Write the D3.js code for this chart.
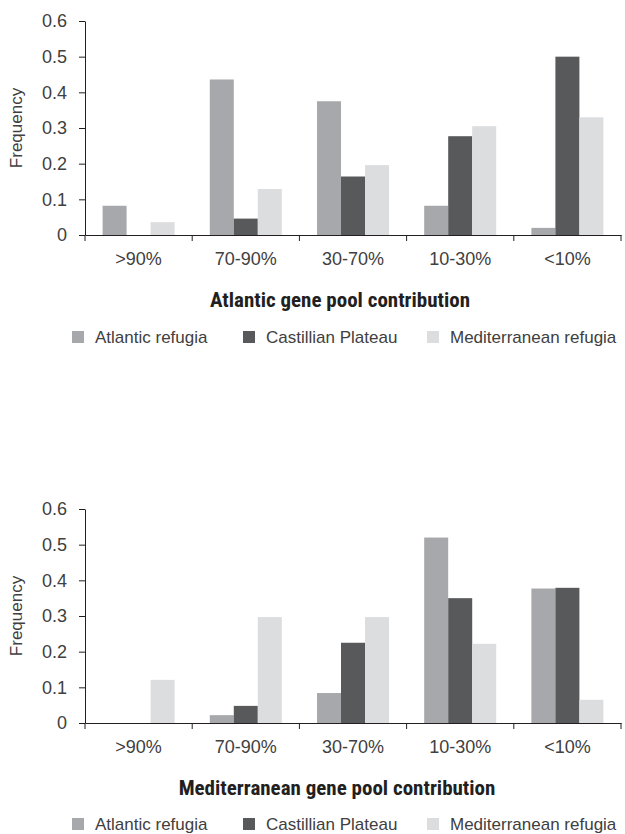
<!DOCTYPE html>
<html>
<head>
<meta charset="utf-8">
<script src="https://cdn.jsdelivr.net/npm/d3@7"></script>
<style>
  html, body { margin: 0; padding: 0; background: #fff; }
  svg { display: block; }
  .tick text { font-family: "Liberation Sans", Arial, sans-serif; }
</style>
</head>
<body>
<svg id="chart" width="625" height="834"></svg>
<script>
// ---- Data ----
const categories = [">90%", "70-90%", "30-70%", "10-30%", "<10%"];
const seriesNames = ["Atlantic refugia", "Castillian Plateau", "Mediterranean refugia"];
const seriesColors = ["#a7a8ab", "#58595b", "#dcdddf"];
const yTicks = [0, 0.1, 0.2, 0.3, 0.4, 0.5, 0.6];

// Panel 1: Atlantic gene pool contribution
const atlanticPanelAtlantic = [0.082, 0.436, 0.375, 0.082, 0.020];
const atlanticPanelCastillian = [0, 0.046, 0.164, 0.277, 0.500];
const atlanticPanelMediterranean = [0.036, 0.129, 0.196, 0.305, 0.330];

// Panel 2: Mediterranean gene pool contribution
const medPanelAtlantic = [0, 0.022, 0.084, 0.520, 0.377];
const medPanelCastillian = [0, 0.048, 0.225, 0.350, 0.379];
const medPanelMediterranean = [0.121, 0.297, 0.297, 0.222, 0.065];

const panels = [
  { title: "Atlantic gene pool contribution", values: [atlanticPanelAtlantic, atlanticPanelCastillian, atlanticPanelMediterranean], top: 21, bottom: 235, titleY: 307, legendY: 337, titleX: 340 },
  { title: "Mediterranean gene pool contribution", values: [medPanelAtlantic, medPanelCastillian, medPanelMediterranean], top: 509, bottom: 723, titleY: 795, legendY: 824, titleX: 337 }
];

const svg = d3.select("#chart");
const left = 85, right = 621;
const axisColor = "#231f20";
const textColor = "#404040";
const bodyFont = "'Liberation Sans', Arial, sans-serif";

panels.forEach(p => {
  const g = svg.append("g");
  const x0 = d3.scaleBand().domain(categories).range([left, right]).padding(0);
  const x1 = d3.scaleBand().domain(seriesNames).range([0, x0.bandwidth()]).paddingInner(0).paddingOuter(0.733);
  const y = d3.scaleLinear().domain([0, 0.6]).range([p.bottom, p.top]);

  // bars
  seriesNames.forEach((s, si) => {
    g.append("g").selectAll("rect")
      .data(categories.map((c, ci) => ({ c, v: p.values[si][ci] })))
      .join("rect")
      .attr("x", d => x0(d.c) + x1(s))
      .attr("width", x1.bandwidth())
      .attr("y", d => y(d.v))
      .attr("height", d => y(0) - y(d.v))
      .attr("fill", seriesColors[si]);
  });

  // y axis
  const yAxis = g.append("g").attr("transform", `translate(${left},0)`)
    .call(d3.axisLeft(y).tickValues(yTicks).tickSize(6).tickSizeOuter(0).tickPadding(12)
      .tickFormat(d => d === 0 ? "0" : d3.format(".1f")(d)));
  yAxis.selectAll("path, line").attr("stroke", axisColor).attr("stroke-width", 1);
  yAxis.selectAll("text").attr("font-size", 18).attr("fill", textColor);

  // x axis labels
  const xAxis = g.append("g").attr("transform", `translate(0,${p.bottom})`)
    .call(d3.axisBottom(x0).tickSize(0).tickSizeOuter(0).tickPadding(17));
  xAxis.select("path.domain").attr("stroke", axisColor).attr("stroke-width", 1.2);
  xAxis.selectAll("text").attr("font-size", 18).attr("fill", textColor);

  // x boundary ticks
  const bounds = categories.map(c => x0(c)).concat([x0.range()[1]]);
  g.append("g").selectAll("line").data(bounds).join("line")
    .attr("x1", d => d).attr("x2", d => d)
    .attr("y1", p.bottom).attr("y2", p.bottom + 6)
    .attr("stroke", axisColor).attr("stroke-width", 1);

  // y title
  g.append("text")
    .attr("transform", `translate(22,${(p.top + p.bottom) / 2}) rotate(-90)`)
    .attr("text-anchor", "middle")
    .attr("font-family", bodyFont)
    .attr("font-size", 17).attr("fill", textColor)
    .text("Frequency");

  // x title
  g.append("text")
    .attr("x", p.titleX).attr("y", p.titleY)
    .attr("text-anchor", "middle")
    .attr("font-family", "'Liberation Sans Narrow', 'Roboto Condensed', 'DejaVu Sans Condensed', sans-serif")
    .attr("font-weight", "bold")
    .attr("font-size", 21).attr("fill", axisColor)
    .text(p.title);

  // legend
  const legendX = [72, 243, 427];
  const lg = g.append("g");
  seriesNames.forEach((s, si) => {
    lg.append("rect")
      .attr("x", legendX[si]).attr("y", p.legendY - 6)
      .attr("width", 12).attr("height", 12)
      .attr("fill", seriesColors[si]);
    lg.append("text")
      .attr("x", legendX[si] + 23).attr("y", p.legendY + 6)
      .attr("font-family", bodyFont)
      .attr("font-size", 17).attr("fill", textColor)
      .text(s);
  });
});
</script>
</body>
</html>
